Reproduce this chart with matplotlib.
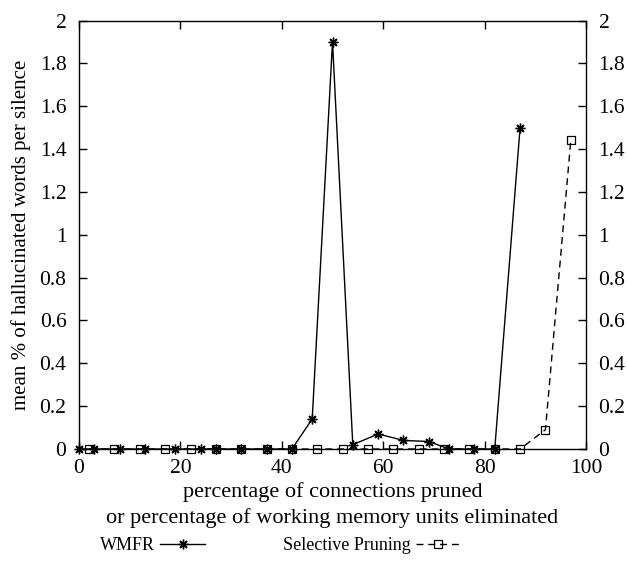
import matplotlib
matplotlib.use("Agg")
import matplotlib.pyplot as plt

plt.rcParams['font.family'] = ['Liberation Serif', 'DejaVu Serif']
plt.rcParams['mathtext.fontset'] = 'stix'

# WMFR series
wmfr_x = [0, 3, 8, 13, 19, 24, 27, 32, 37, 42, 46, 50, 54, 59, 64, 69, 73, 78, 82, 87]
wmfr_y = [0, 0, 0, 0, 0, 0, 0, 0, 0, 0, 0.14, 1.9, 0.02, 0.07, 0.04, 0.035, 0, 0, 0, 1.5]

# Selective Pruning series
sp_x = [2, 7, 12, 17, 22, 27, 32, 37, 42, 47, 52, 57, 62, 67, 72, 77, 82, 87, 92, 97]
sp_y = [0, 0, 0, 0, 0, 0, 0, 0, 0, 0, 0, 0, 0, 0, 0, 0, 0, 0, 0.09, 1.44]

x_ticks = [0, 20, 40, 60, 80, 100]
y_ticks = [0, 0.2, 0.4, 0.6, 0.8, 1, 1.2, 1.4, 1.6, 1.8, 2]
y_tick_labels = ['0', '0.2', '0.4', '0.6', '0.8', '1', '1.2', '1.4', '1.6', '1.8', '2']

fig = plt.figure(figsize=(6.27, 5.62), dpi=100)
ax = fig.add_axes([79/627, 1 - 449/562, (586 - 79)/627, (449 - 20.5)/562])

star = (8, 2, 0)
ax.plot(wmfr_x, wmfr_y, color='black', lw=1.0, marker=star, ms=7, mew=1.0,
        label='WMFR', clip_on=False, zorder=3)
ax.plot(sp_x, sp_y, color='black', lw=1.0, ls=(0, (5, 3.5)), marker='s', ms=6,
        mfc='none', mew=0.9, label='Selective Pruning', clip_on=False, zorder=3)

ax.set_xlim(0, 100)
ax.set_ylim(0, 2)
ax.set_xticks(x_ticks)
ax.set_xticklabels([str(t) for t in x_ticks])
ax.set_yticks(y_ticks)
ax.set_yticklabels(y_tick_labels)
ax.tick_params(direction='in', length=6, width=1, top=True, right=True,
               labelright=True, labelsize=15.5, pad=9, colors='black')
ax.tick_params(axis='x', pad=7)
for s in ax.spines.values():
    s.set_linewidth(1.0)

ax.set_ylabel('mean % of hallucinated words per silence', fontsize=15, labelpad=6)
ax.set_xlabel('percentage of connections pruned\nor percentage of working memory units eliminated',
              fontsize=16, labelpad=3, linespacing=1.4)

leg = fig.legend(loc='center', bbox_to_anchor=(0.447, 1 - 546/562), ncol=2,
                 frameon=False, markerfirst=False, fontsize=13, handlelength=2.5,
                 columnspacing=4.3, handletextpad=0.3)

fig.savefig('out.png', dpi=100)
